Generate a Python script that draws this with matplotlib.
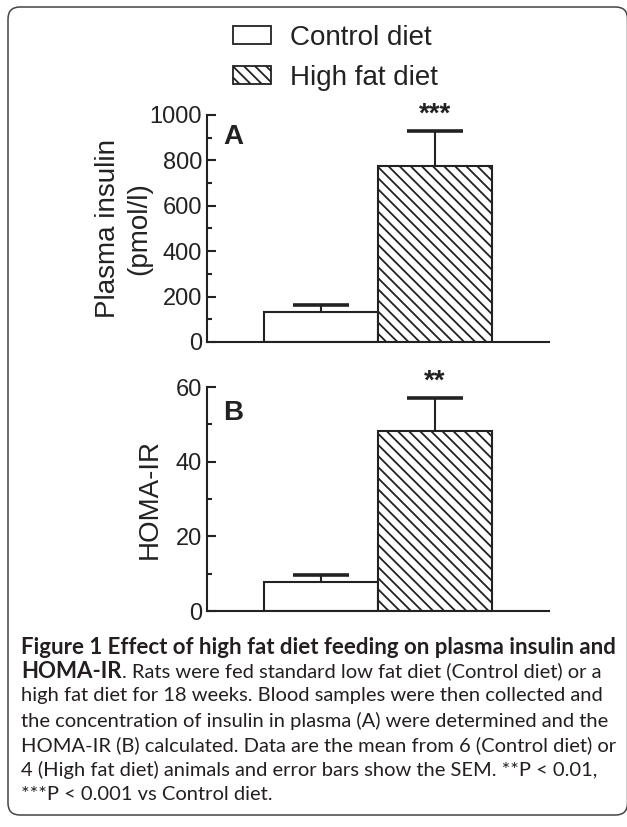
import numpy as np
import matplotlib
matplotlib.use("Agg")
import matplotlib.pyplot as plt
import matplotlib.transforms as mtransforms
from matplotlib.patches import Patch, FancyBboxPatch
from matplotlib.ticker import MultipleLocator

# data
groups = ['Control diet', 'High fat diet']
insulin_mean = [131, 776]
insulin_sem = [33, 154]
homa_mean = [7.7, 48.2]
homa_sem = [1.9, 8.9]
insulin_stars = ['', '***']
homa_stars = ['', '**']

caption = [
    ("Figure 1 Effect of high fat diet feeding on plasma insulin and", ""),
    ("HOMA-IR", ". Rats were fed standard low fat diet (Control diet) or a"),
    ("", "high fat diet for 18 weeks. Blood samples were then collected and"),
    ("", "the concentration of insulin in plasma (A) were determined and the"),
    ("", "HOMA-IR (B) calculated. Data are the mean from 6 (Control diet) or"),
    ("", "4 (High fat diet) animals and error bars show the SEM. **P < 0.01,"),
    ("", "***P < 0.001 vs Control diet."),
]

ink = '#222222'
hatch = '\\\\\\'
plt.rcParams['font.family'] = ['Liberation Sans', 'DejaVu Sans']
plt.rcParams['hatch.linewidth'] = 1.3
plt.rcParams['hatch.color'] = ink

W, H = 627, 827
fig = plt.figure(figsize=(W / 100, H / 100), dpi=100)

# rounded frame round the whole figure (right side runs off the edge)
frame = FancyBboxPatch((8, 12), 619.5, 808, boxstyle='round,pad=0,rounding_size=12',
                       transform=mtransforms.IdentityTransform(), facecolor='none',
                       edgecolor='#444444', linewidth=1.1)
fig.patches.append(frame)

axA = fig.add_axes([207 / W, 1 - 342 / H, 342 / W, 227 / H])
axB = fig.add_axes([207 / W, 1 - 611 / H, 342 / W, 224 / H])

x = np.arange(len(groups))


def panel(ax, means, sems, stars, top, major, minor, label, ylabel, lab_x):
    bars = ax.bar(x, means, width=1.0, color='white', edgecolor=ink, linewidth=1.5, zorder=2)
    bars[1].set_hatch(hatch)
    eb = ax.errorbar(x, means, yerr=[np.zeros(len(x)), sems], fmt='none', ecolor=ink,
                     elinewidth=1.5, capsize=20.5, capthick=2.6, zorder=1)
    eb[1][0].set_visible(False)
    for xi, m, s, st in zip(x, means, sems, stars):
        if st:
            ax.annotate(st, (xi, m + s), xytext=(0, 2), textcoords='offset points',
                        ha='center', va='bottom', fontsize=20, color=ink,
                        fontweight='bold', annotation_clip=False)
    ax.set_xlim(-1, 2)
    ax.set_ylim(0, top)
    ax.set_xticks([])
    ax.yaxis.set_major_locator(MultipleLocator(major))
    ax.yaxis.set_minor_locator(MultipleLocator(minor))
    ax.tick_params(axis='y', which='both', direction='in', width=1.5, colors=ink,
                   labelsize=17, pad=3.5)
    ax.tick_params(axis='y', which='major', length=6.5)
    ax.tick_params(axis='y', which='minor', length=3.5)
    for s in ('top', 'right'):
        ax.spines[s].set_visible(False)
    for s in ('left', 'bottom'):
        ax.spines[s].set_linewidth(1.5)
        ax.spines[s].set_color(ink)
    ax.set_ylabel(ylabel, fontsize=20, color=ink, linespacing=1.25)
    ax.yaxis.set_label_coords(lab_x, 0.5)
    ax.text(0.048, label[1], label[0], transform=ax.transAxes, fontsize=20,
            fontweight='bold', color=ink, va='center', ha='left')


panel(axA, insulin_mean, insulin_sem, insulin_stars, 1000, 200, 100, ('A', 0.904),
      'Plasma insulin\n(pmol/l)', -0.16)
panel(axB, homa_mean, homa_sem, homa_stars, 60, 20, 10, ('B', 0.885),
      'HOMA-IR', -0.13)

handles = [Patch(facecolor='white', edgecolor=ink, linewidth=1.3),
           Patch(facecolor='white', edgecolor=ink, linewidth=1.3, hatch=hatch)]
fig.legend(handles, groups, loc='upper left', bbox_to_anchor=(233 / W, 1 - 25 / H),
           frameon=False, fontsize=20, handlelength=1.36, handleheight=0.64,
           handletextpad=0.68, labelspacing=0.5, borderpad=0, borderaxespad=0,
           labelcolor=ink)

# caption: bold and regular sizes fitted to the widths of the printed lines
renderer = fig.canvas.get_renderer()
cap_font = ['Lato', 'DejaVu Sans']
cap_ink = '#231f20'


def fit(text, weight, width):
    probe = fig.text(0, 0, text, fontsize=14, fontweight=weight, family=cap_font)
    w = probe.get_window_extent(renderer).width
    probe.remove()
    return 14 * width / w


bold_size = fit(caption[0][0], 'bold', 598)
reg_size = fit(caption[3][1], 'normal', 591)
step = 24.5
y0 = 647
for i, (bold, rest) in enumerate(caption):
    yy = 1 - (y0 + i * step) / H
    xx = 21 / W
    if bold:
        t = fig.text(xx, yy, bold, fontsize=bold_size, fontweight='bold', family=cap_font,
                     color=cap_ink, va='center')
        xx = t.get_window_extent(renderer).x1 / W
    if rest:
        fig.text(xx, yy, rest, fontsize=reg_size, family=cap_font, color=cap_ink,
                 va='center')

fig.savefig('out.png', dpi=100)
